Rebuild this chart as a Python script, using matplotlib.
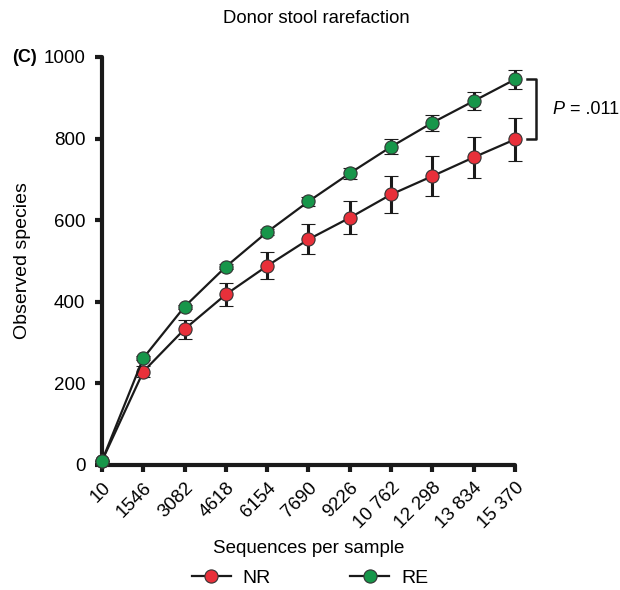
import matplotlib.pyplot as plt
from matplotlib.lines import Line2D

plt.rcParams["font.family"] = ["Liberation Sans", "DejaVu Sans"]

############################################################
# Data
############################################################

depths = ["10", "1546", "3082", "4618", "6154", "7690",
          "9226", "10 762", "12 298", "13 834", "15 370"]

nr_mean = [10, 229, 333, 418, 488, 553, 606, 663, 708, 754, 798]
nr_err = [0, 14, 23, 29, 33, 37, 40, 46, 49, 51, 53]

re_mean = [10, 262, 388, 486, 571, 646, 715, 780, 839, 892, 945]
re_err = [0, 4, 5, 6, 7, 12, 14, 18, 20, 22, 24]

p_label = "= .011"

RED = "#E8303A"
GREEN = "#17964A"
INK = "#1a1a1a"

############################################################
# Figure
############################################################

fig = plt.figure(figsize=(6.2, 5.9), dpi=100)
ax = fig.add_axes([0.1645, 0.2119, 0.6661, 0.6915])

x = list(range(len(depths)))

marker_style = dict(
    marker="o", markersize=9.5,
    markeredgecolor="#333333", markeredgewidth=0.8,
)

for mean, err, color in [(nr_mean, nr_err, RED), (re_mean, re_err, GREEN)]:
    ax.errorbar(
        x, mean, yerr=err,
        color=INK, ecolor=INK,
        linewidth=1.6, elinewidth=2.2,
        capsize=5, capthick=2.2,
        markerfacecolor=color,
        clip_on=False, zorder=3,
        **marker_style,
    )

ax.set_xlim(0, len(depths) - 1)
ax.set_ylim(0, 1000)
ax.set_yticks([0, 200, 400, 600, 800, 1000])
ax.set_xticks(x)
ax.set_xticklabels(depths, rotation=45, ha="right",
                   rotation_mode="anchor", fontsize=13.5)
ax.tick_params(axis="y", labelsize=13.5, pad=7)
ax.tick_params(axis="x", pad=5)
ax.tick_params(width=3, length=5, color=INK)

for side in ["top", "right"]:
    ax.spines[side].set_visible(False)
for side in ["left", "bottom"]:
    ax.spines[side].set_linewidth(3)
    ax.spines[side].set_color(INK)
    ax.spines[side].set_capstyle("round")

ax.set_ylabel("Observed species", fontsize=14, labelpad=9)
ax.set_xlabel("Sequences per sample", fontsize=13.5, labelpad=6)

############################################################
# Significance bracket
############################################################

last = len(depths) - 1
ax.plot(
    [last + 0.28, last + 0.52, last + 0.52, last + 0.28],
    [re_mean[last], re_mean[last], nr_mean[last], nr_mean[last]],
    color=INK, linewidth=1.8, clip_on=False,
)
p_y = (re_mean[last] + nr_mean[last]) / 2
ax.text(last + 0.9, p_y, "P", style="italic", fontsize=13,
        ha="left", va="center", clip_on=False)
ax.text(last + 1.2, p_y, " " + p_label, fontsize=13,
        ha="left", va="center", clip_on=False)

############################################################
# Title, panel tag and legend
############################################################

fig.text(0.51, 0.968, "Donor stool rarefaction", ha="center",
         va="center", fontsize=13.3)
fig.text(0.02, 0.903, "(C)", ha="left", va="center",
         fontsize=13, fontweight="bold")

handles = [
    Line2D([], [], color=INK, linewidth=1.6,
           markerfacecolor=RED, **marker_style),
    Line2D([], [], color=INK, linewidth=1.6,
           markerfacecolor=GREEN, **marker_style),
]
fig.legend(
    handles, ["NR", "RE"], loc="center", bbox_to_anchor=(0.5, 0.02),
    ncol=2, frameon=False, fontsize=14,
    handlelength=2.0, columnspacing=4.1, handletextpad=0.6,
)

fig.savefig("out.png", dpi=100)
